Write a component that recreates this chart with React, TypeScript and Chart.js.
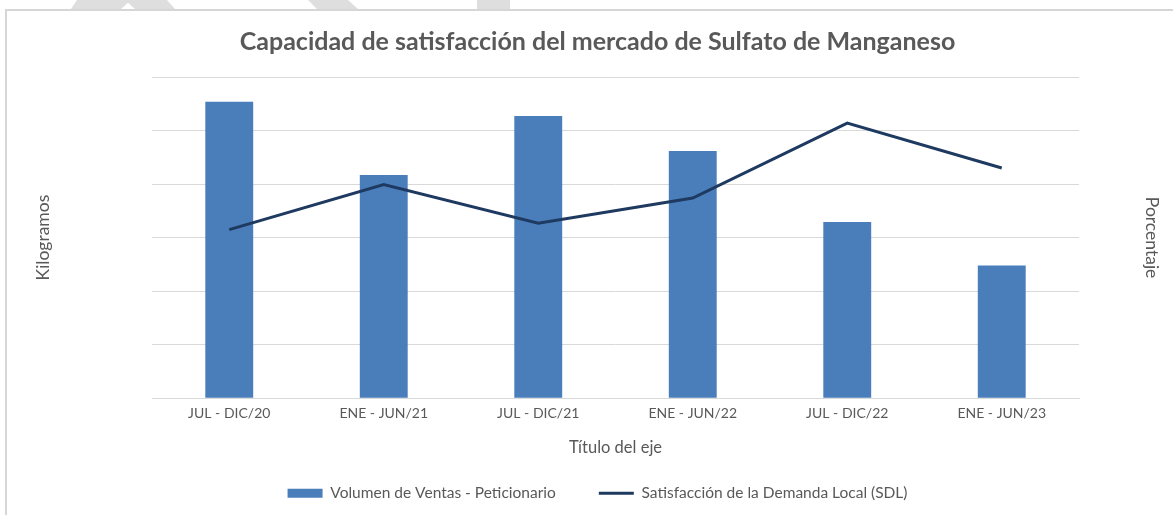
import { useEffect, useRef } from "react";
import { Chart, registerables } from "chart.js";

Chart.register(...registerables);

const categories = [
  "JUL - DIC/20",
  "ENE - JUN/21",
  "JUL - DIC/21",
  "ENE - JUN/22",
  "JUL - DIC/22",
  "ENE - JUN/23",
];
const volumenVentas = [5.54, 4.17, 5.27, 4.62, 3.29, 2.48];
const satisfaccionSDL = [3.15, 3.99, 3.27, 3.74, 5.14, 4.3];
const yTicks = [0, 1, 2, 3, 4, 5, 6];

const FONT = "Lato, 'Open Sans', sans-serif";
const TEXT = "#595959";
const GRID = "#d9d9d9";
const BAR = "#4a7ebb";
const LINE = "#1f3a60";

const framePlugin = {
  id: "frame",
  beforeDraw(chart: any) {
    const ctx = chart.ctx as CanvasRenderingContext2D;
    ctx.save();
    ctx.fillStyle = "#ffffff";
    ctx.fillRect(0, 0, chart.width, chart.height);
    // watermark fragments at top
    ctx.fillStyle = "#dedede";
    const shapes = [
      [[77, 0], [131, 0], [121, 9], [71, 9]],
      [[125, 0], [167, 0], [175, 9], [135, 9]],
      [[308, 0], [348, 0], [358, 9], [317, 9]],
      [[477, 0], [510, 0], [510, 9], [477, 9]],
    ];
    shapes.forEach((s) => {
      ctx.beginPath();
      ctx.moveTo(s[0][0], s[0][1]);
      for (let i = 1; i < s.length; i++) ctx.lineTo(s[i][0], s[i][1]);
      ctx.closePath();
      ctx.fill();
    });
    // frame
    ctx.strokeStyle = "#d6d6d6";
    ctx.lineWidth = 2;
    ctx.beginPath();
    ctx.moveTo(6, chart.height);
    ctx.lineTo(6, 10);
    ctx.lineTo(chart.width, 10);
    ctx.stroke();
    ctx.restore();
  },
};

export default function App() {
  const ref = useRef<HTMLCanvasElement | null>(null);

  useEffect(() => {
    if (!ref.current) return;
    const chart = new Chart(ref.current, {
      type: "bar",
      data: {
        labels: categories,
        datasets: [
          {
            type: "line",
            label: "Satisfacción de la Demanda Local (SDL)",
            data: satisfaccionSDL,
            borderColor: LINE,
            backgroundColor: LINE,
            borderWidth: 3,
            pointRadius: 0,
            pointStyle: "line",
            tension: 0,
            yAxisID: "y1",
          } as any,
          {
            type: "bar",
            label: "Volumen de Ventas - Peticionario",
            data: volumenVentas,
            backgroundColor: BAR,
            borderWidth: 0,
            barPercentage: 0.31,
            categoryPercentage: 1,
            pointStyle: "rect",
            yAxisID: "y",
          } as any,
        ],
      },
      options: {
        animation: false,
        responsive: true,
        maintainAspectRatio: false,
        layout: { padding: { left: 22, right: 0, top: 0, bottom: 4 } },
        plugins: {
          title: {
            display: true,
            text: "Capacidad de satisfacción del mercado de Sulfato de Manganeso",
            color: TEXT,
            font: { family: FONT, size: 25, weight: "bold" },
            padding: { top: 27, bottom: 20 },
          },
          legend: {
            position: "bottom",
            reverse: true,
            labels: {
              usePointStyle: true,
              pointStyleWidth: 35,
              boxHeight: 9,
              color: TEXT,
              font: { family: FONT, size: 15.5 },
              padding: 43,
            },
          },
          tooltip: { enabled: false },
        },
        scales: {
          x: {
            grid: { display: false, drawTicks: false },
            border: { display: true, color: GRID },
            ticks: {
              color: TEXT,
              font: { family: FONT, size: 14 },
              padding: 7,
              maxRotation: 0,
            },
            title: {
              display: true,
              text: "Título del eje",
              color: TEXT,
              font: { family: FONT, size: 16.5 },
              padding: { top: 8.3, bottom: -14.6 },
            },
          },
          y: {
            position: "left",
            min: yTicks[0],
            max: yTicks[yTicks.length - 1],
            afterBuildTicks: (axis: any) => {
              axis.ticks = yTicks.map((v) => ({ value: v }));
            },
            ticks: { display: false },
            grid: { color: GRID, drawTicks: false, lineWidth: 1 },
            border: { display: false },
            title: {
              display: true,
              text: "Kilogramos",
              color: TEXT,
              font: { family: FONT, size: 17.5 },
              padding: { top: 10.5, bottom: 98.5 },
            },
          },
          y1: {
            position: "right",
            min: yTicks[0],
            max: yTicks[yTicks.length - 1],
            ticks: { display: false },
            grid: { display: false, drawTicks: false },
            border: { display: false },
            title: {
              display: true,
              text: "Porcentaje",
              color: TEXT,
              font: { family: FONT, size: 17.5 },
              padding: { top: 10.5, bottom: 62.5 },
            },
          },
        },
      },
      plugins: [framePlugin],
    });
    return () => chart.destroy();
  }, []);

  return (
    <div style={{ position: "absolute", left: 0, top: 0, width: 1173, height: 515 }}>
      <canvas ref={ref} />
    </div>
  );
}
